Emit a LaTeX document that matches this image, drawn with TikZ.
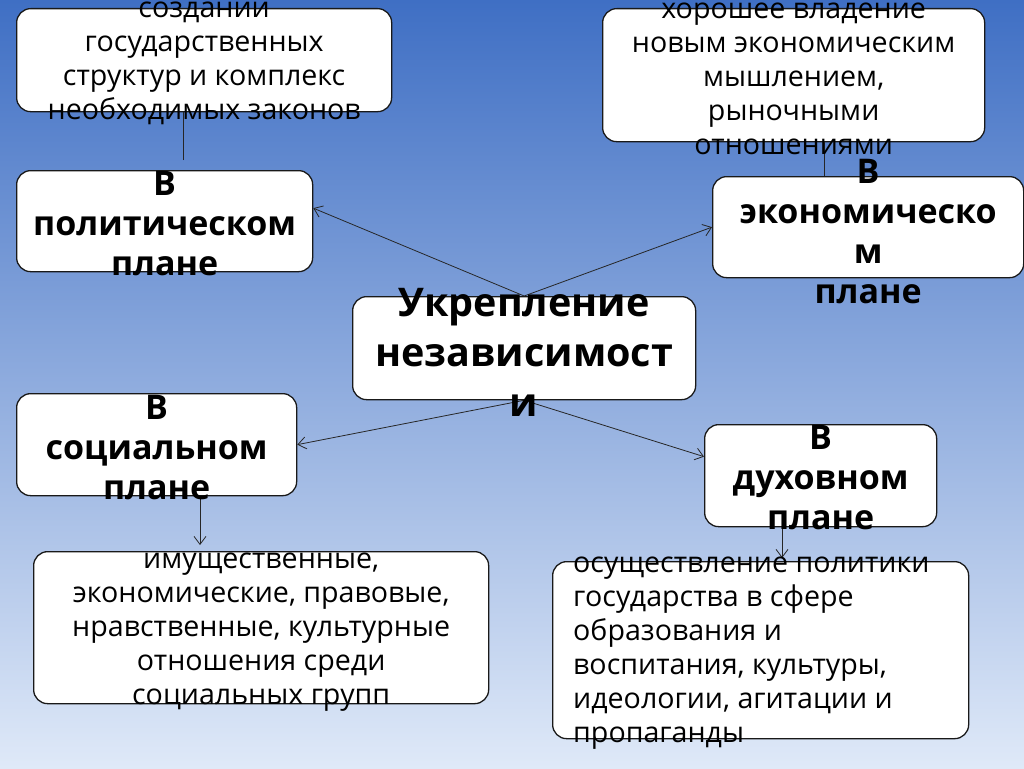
\documentclass[tikz,border=0pt]{standalone}
\usepackage{fontspec}
\setmainfont{Open Sans}
\usetikzlibrary{arrows.meta,calc}
\definecolor{bgtop}{HTML}{3F6FC4}
\definecolor{bgmid}{HTML}{B0C9EE}
\definecolor{bgbot}{HTML}{DFE9F8}
\tikzset{
  box/.style={draw=black!90, line width=1.3pt, fill=white, rounded corners=14pt, inner sep=0pt, anchor=north west},
  det/.style={font=\fontsize{28.6}{34}\selectfont, align=center, inner sep=0pt},
  head/.style={font=\fontsize{34}{40}\selectfont\bfseries, align=center, inner sep=0pt},
  conn/.style={draw=black!85, line width=0.8pt},
  arr/.style={conn, -{Straight Barb[length=8pt,width=12pt]}}
}
\begin{document}
\begin{tikzpicture}[x=1pt,y=-1pt]
\shade[top color=bgtop, middle color=bgmid, bottom color=bgbot] (0,0) rectangle (1024,768);
\useasboundingbox (0,0) rectangle (1024,768);

% boxes
\node[box, minimum width=375pt, minimum height=103pt] (tl) at (16,8) {};
\node[box, minimum width=382pt, minimum height=133pt] (ecd) at (602,8) {};
\node[box, minimum width=296pt, minimum height=101pt] (pol) at (16,170) {};
\node[box, minimum width=311pt, minimum height=101pt] (ec) at (712,176) {};
\node[box, minimum width=343pt, minimum height=103pt] (cen) at (352,296) {};
\node[box, minimum width=280pt, minimum height=102pt] (soc) at (16,393) {};
\node[box, minimum width=232pt, minimum height=102pt] (spi) at (704,424) {};
\node[box, minimum width=455pt, minimum height=152pt] (bl) at (33,551) {};
\node[box, minimum width=416pt, minimum height=177pt] (br) at (552,561) {};

% connectors
\coordinate (c1) at (183,160);
\draw[conn] (c1) -- (c1 |- tl.south);
\coordinate (c2) at (824,0);
\draw[conn] (c2 |- ec.north) -- (c2 |- ecd.south);
\draw[arr] (cen.north) -- ($(pol.east)+(0,-13)$);
\draw[arr] (cen.north) -- (ec.west);
\draw[arr] (cen.south) -- (soc.east);
\draw[arr] (cen.south) -- ($(spi.west)+(0,-19)$);
\coordinate (c3) at (200,0);
\draw[arr] (c3 |- soc.south) -- ($(c3 |- bl.north)+(0,-6)$);
\coordinate (c4) at (782,0);
\draw[arr] (c4 |- spi.south) -- ($(c4 |- br.north)+(0,-3)$);

% texts
\node[det] (tlt) at ($(tl.center)+(0,3)$) {создании\\государственных\\структур и комплекс\\необходимых законов};
\node[det] (ecdt) at ($(ecd.center)+(0,4)$) {хорошее владение\\новым экономическим\\мышлением,\\рыночными\\отношениями};
\node[head] (polt) at ($(pol.center)+(0,2)$) {В\\политическом\\плане};
\node[head] (ect) at ($(ec.center)+(0,4)$) {В\\экономическо\\м\\плане};
\node[head, font=\fontsize{39.5}{50}\selectfont\bfseries] (cent) at ($(cen.center)+(0,4)$) {Укрепление\\независимост\\и};
\node[head] (soct) at ($(soc.center)+(0,3)$) {В\\социальном\\плане};
\node[head] (spit) at ($(spi.center)+(0,2)$) {В\\духовном\\плане};
\node[det] (blt) at ($(bl.center)+(0,4)$) {имущественные,\\экономические, правовые,\\нравственные, культурные\\отношения среди\\социальных групп};
\node[det, align=left, anchor=west] (brt) at ($(br.west)+(21,3)$) {осуществление политики\\государства в сфере\\образования и\\воспитания, культуры,\\идеологии, агитации и\\пропаганды};
\end{tikzpicture}
\end{document}
